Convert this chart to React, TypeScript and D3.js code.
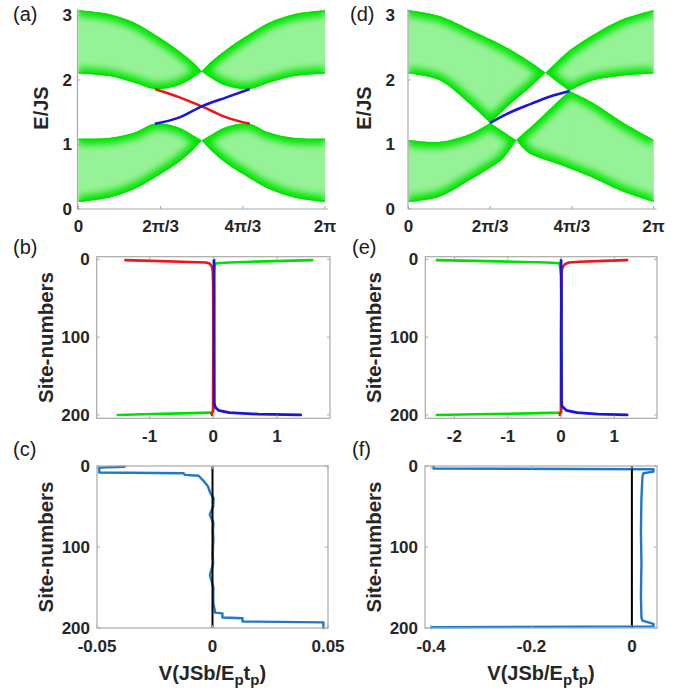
import React from 'react';
import * as d3 from 'd3';

const FONT = 'Arial, "Liberation Sans", Helvetica, sans-serif';
const GREEN = '#00e400';
const GREEN_LIGHT = '#96f296';
const AXIS = '#a9a9a9';
const TXT = '#262626';
const RED = '#f01414';
const BLUE = '#1616dc';
const MBLUE = '#1f78c8';

// ---- (a) bulk band edges, k in units of pi ----
const aK = [0, 0.25, 0.45, 0.62, 0.8, 0.93, 1, 1.07, 1.2, 1.38, 1.55, 1.75, 2];
const aTop1 = [3.08, 3.02, 2.89, 2.7, 2.47, 2.27, 2.13, 2.27, 2.47, 2.7, 2.89, 3.02, 3.08];
const aBot1 = [2.1, 2.06, 1.96, 1.86, 1.91, 2.04, 2.13, 2.04, 1.91, 1.86, 1.96, 2.06, 2.1];
const aTop2 = [1.09, 1.1, 1.18, 1.32, 1.27, 1.14, 1.06, 1.14, 1.27, 1.32, 1.18, 1.1, 1.09];
const aBot2 = [0.11, 0.18, 0.31, 0.49, 0.71, 0.92, 1.06, 0.92, 0.71, 0.49, 0.31, 0.18, 0.11];
const aBreaks = [1];
// (a) edge states
const aEdgeK = [0.62, 0.82, 1, 1.2, 1.39];
const aRed = [1.86, 1.73, 1.59, 1.42, 1.32];
const aBlue = [1.32, 1.42, 1.59, 1.73, 1.86];

// ---- (d) bulk band edges ----
const dK1 = [0, 0.25, 0.5, 0.667, 0.85, 1, 1.118, 1.2, 1.314, 1.5, 1.75, 2];
const dTop1 = [3.08, 2.99, 2.78, 2.63, 2.45, 2.27, 2.11, 2.26, 2.46, 2.69, 2.94, 3.08];
const dBot1 = [2.1, 2.0, 1.63, 1.334, 1.66, 1.9, 2.11, 1.99, 1.83, 1.99, 2.07, 2.1];
const dBreaks1 = [0.667, 1.118, 1.314];
const dK2 = [0, 0.25, 0.5, 0.667, 0.77, 0.879, 0.95, 1, 1.25, 1.314, 1.5, 1.75, 2];
const dTop2 = [1.07, 1.04, 1.16, 1.334, 1.2, 1.066, 1.19, 1.27, 1.72, 1.83, 1.65, 1.34, 1.07];
const dBot2 = [0.11, 0.19, 0.45, 0.64, 0.78, 1.066, 0.92, 0.85, 0.68, 0.63, 0.49, 0.27, 0.11];
const dBreaks2 = [0.667, 0.879, 1.314];
const dEdgeK = [0.667, 0.8, 1, 1.15, 1.314];
const dBlue = [1.334, 1.47, 1.63, 1.74, 1.83];

const kTicks = [0, 2 / 3, 4 / 3, 2];
const kLabels = ['0', '2π/3', '4π/3', '2π'];
const eTicks = [0, 1, 2, 3];

// ---- (b) profiles [site, value] ----
const bGreen = [[1, 1.55], [2, 1.1], [3, 0.6], [4, 0.25], [5, 0.05], [7, 0.02], [20, 0.01], [100, 0.008], [190, 0.005], [196, -0.01], [197, -0.04], [198, -0.5], [199, -1.1], [200, -1.5]];
const bRed = [[1, -1.38], [2, -0.95], [3, -0.5], [4, -0.12], [5, -0.07], [7, -0.04], [10, -0.02], [15, -0.01], [30, -0.004], [100, 0], [196, -0.005], [198, -0.03], [200, -0.02]];
const bBlue = [[1, 0.01], [50, 0.012], [100, 0.012], [185, 0.015], [190, 0.03], [194, 0.08], [197, 0.25], [199, 0.7], [200, 1.37]];

// ---- (e) profiles ----
const eGreen = [[1, -2.33], [2, -1.6], [3, -0.9], [4, -0.25], [5, -0.03], [20, 0.005], [100, 0.005], [196, 0.0], [197, -0.03], [198, -0.6], [199, -1.6], [200, -2.33]];
const eRed = [[1, 1.24], [2, 0.8], [3, 0.35], [4, 0.15], [6, 0.08], [8, 0.05], [12, 0.02], [20, 0.01], [100, 0], [197, 0], [198, -0.03], [200, -0.02]];
const eBlue = [[1, 0.0], [50, 0.005], [100, 0.005], [185, 0.01], [189, 0.02], [194, 0.1], [197, 0.3], [199, 0.7], [200, 1.24]];

// ---- (c), (f) potential profiles ----
const cProfile = [[1, -0.038], [2, -0.049], [8, -0.049], [9, -0.0125], [11, -0.012], [12, -0.006], [18, -0.004], [25, -0.002], [33, -0.001], [40, 0.0005], [50, 0.0003], [60, -0.0012], [70, 0.0004], [80, 0.0002], [90, 0.0004], [100, 0.0002], [110, 0.0001], [120, 0.0003], [135, -0.0011], [150, 0.0004], [160, 0.0003], [170, 0.0004], [178, 0.001], [181, 0.001], [182, 0.0043], [187, 0.0043], [188, 0.013], [192, 0.013], [193, 0.048], [200, 0.048]];
const fProfile = [[1, -0.395], [3, -0.395], [4, 0.043], [7, 0.043], [9, 0.023], [13, 0.021], [40, 0.019], [80, 0.018], [120, 0.019], [160, 0.018], [187, 0.019], [191, 0.021], [195, 0.043], [198, 0.043], [199, -0.4], [200, -0.4]];

function splitIdx(ks: number[], breaks: number[]) {
  const segs: number[][] = [];
  let start = 0;
  for (let i = 1; i < ks.length; i++) {
    if (breaks.includes(ks[i]) || i === ks.length - 1) {
      segs.push(d3.range(start, i + 1));
      start = i;
    }
  }
  return segs;
}

const smooth = d3.curveCatmullRom.alpha(0.5);

function Band({ id, ks, top, bot, breaks, x, y }: any) {
  const segs = splitIdx(ks, breaks);
  const area = d3.area<number>()
    .x(i => x(ks[i])).y0(i => y(bot[i])).y1(i => y(top[i]))
    .curve(smooth);
  const lineT = d3.line<number>().x(i => x(ks[i])).y(i => y(top[i])).curve(smooth);
  const lineB = d3.line<number>().x(i => x(ks[i])).y(i => y(bot[i])).curve(smooth);
  const areaD = segs.map(s => area(s)).join('');
  const edgeD = segs.map(s => lineT(s) + lineB(s)).join('');
  return (
    <g>
      <clipPath id={id}><path d={areaD} /></clipPath>
      <path d={areaD} fill={GREEN_LIGHT} stroke={GREEN_LIGHT} strokeWidth={0.6} />
      <g clipPath={`url(#${id})`}>
        <path d={edgeD} fill="none" stroke={GREEN} strokeWidth={12} filter="url(#soft)" />
        <path d={edgeD} fill="none" stroke={GREEN} strokeWidth={3} />
      </g>
    </g>
  );
}

function BandPanel({ label, x0, x1, axisX, yLabelEnd, bands, lines }: any) {
  const x = d3.scaleLinear().domain([0, 2]).range([x0, x1]);
  const y = d3.scaleLinear().domain([0, 3.1]).range([209, 9]);
  const edge = d3.line<number>().curve(d3.curveMonotoneX);
  return (
    <g fontFamily={FONT}>
      {bands.map((b: any) => <Band key={b.id} {...b} x={x} y={y} />)}
      {lines.map((l: any, i: number) => (
        <path key={i} d={edge(l.ks.map((k: number, j: number) => [x(k), y(l.es[j])]) as any) || ''}
          fill="none" stroke={l.color} strokeWidth={2.6} />
      ))}
      <line x1={axisX} x2={axisX} y1={9} y2={209} stroke={AXIS} strokeWidth={1.2} />
      <line x1={axisX} x2={x1 + 3} y1={209} y2={209} stroke={AXIS} strokeWidth={1.2} />
      {eTicks.map(t => (
        <g key={t}>
          <line x1={axisX} x2={axisX + 3} y1={y(t)} y2={y(t)} stroke={AXIS} />
          <text x={yLabelEnd} y={y(t) + 6} textAnchor="end" fontSize={17} fontWeight="bold" fill={TXT}>{t}</text>
        </g>
      ))}
      {kTicks.map((t, i) => (
        <g key={i}>
          <line x1={x(t)} x2={x(t)} y1={209} y2={206} stroke={AXIS} />
          <text x={x(t)} y={232} textAnchor="middle" fontSize={17} fontWeight="bold" fill={TXT}>{kLabels[i]}</text>
        </g>
      ))}
      <text transform={`translate(${yLabelEnd - 24},${108}) rotate(-90)`} textAnchor="middle"
        fontSize={20} fontWeight="bold" fill={TXT}>E/JS</text>
      <text x={label.x} y={21} fontSize={20} fill="#1a1a1a">{label.t}</text>
    </g>
  );
}

function ProfilePanel({ label, labelY, left, right, top, bottom, xDomain, yDomain, xTicks, xTickLabels, series, zeroLine, xTitle }: any) {
  const x = d3.scaleLinear().domain(xDomain).range([left, right]);
  const y = d3.scaleLinear().domain(yDomain).range([top, bottom]);
  const line = d3.line<number[]>().x(d => x(d[1])).y(d => y(d[0]));
  const yTicks = [0, 100, 200];
  return (
    <g fontFamily={FONT}>
      {series.map((s: any, i: number) => (
        <path key={i} d={line(s.data) || ''} fill="none" stroke={s.color} strokeWidth={s.w}
          strokeLinejoin="round" strokeLinecap="round" />
      ))}
      {zeroLine && <line x1={x(0)} x2={x(0)} y1={top} y2={bottom} stroke="#000" strokeWidth={2} />}
      <rect x={left} y={top} width={right - left} height={bottom - top} fill="none" stroke={AXIS} strokeWidth={1.2} />
      {xTicks.map((t: number, i: number) => (
        <g key={i}>
          <line x1={x(t)} x2={x(t)} y1={bottom} y2={bottom - 3} stroke={AXIS} />
          <line x1={x(t)} x2={x(t)} y1={top} y2={top + 3} stroke={AXIS} />
          <text x={x(t)} y={bottom + 24} textAnchor="middle" fontSize={17} fontWeight="bold" fill={TXT}>{xTickLabels[i]}</text>
        </g>
      ))}
      {yTicks.map(t => (
        <g key={t}>
          <line x1={left} x2={left + 3} y1={y(t)} y2={y(t)} stroke={AXIS} />
          <line x1={right} x2={right - 3} y1={y(t)} y2={y(t)} stroke={AXIS} />
          <text x={left - 7} y={y(t) + 6} textAnchor="end" fontSize={17} fontWeight="bold" fill={TXT}>{t}</text>
        </g>
      ))}
      <text transform={`translate(${left - 44},${(top + bottom) / 2}) rotate(-90)`} textAnchor="middle"
        fontSize={20.5} fontWeight="bold" fill={TXT}>Site-numbers</text>
      {xTitle && (
        <text x={(left + right) / 2} y={680} textAnchor="middle" fontSize={20} fontWeight="bold" fill={TXT}>
          V(JSb/E<tspan dy={5} fontSize={15}>p</tspan><tspan dy={-5}>t</tspan><tspan dy={5} fontSize={15}>p</tspan><tspan dy={-5}>)</tspan>
        </text>
      )}
      <text x={label.x} y={labelY} fontSize={20} fill="#1a1a1a">{label.t}</text>
    </g>
  );
}

export default function App() {
  return (
    <svg width={684} height={696} style={{ position: 'absolute', left: 0, top: 0, background: '#fff' }}>
      <defs>
        <filter id="soft" filterUnits="userSpaceOnUse" x={0} y={0} width={684} height={696}>
          <feGaussianBlur stdDeviation={3.5} />
        </filter>
      </defs>
      <rect width={684} height={696} fill="#fff" />
      <BandPanel label={{ t: '(a)', x: 13 }} x0={78.5} x1={325} axisX={77.5} yLabelEnd={72}
        bands={[
          { id: 'a1', ks: aK, top: aTop1, bot: aBot1, breaks: aBreaks },
          { id: 'a2', ks: aK, top: aTop2, bot: aBot2, breaks: aBreaks },
        ]}
        lines={[{ ks: aEdgeK, es: aRed, color: RED }, { ks: aEdgeK, es: aBlue, color: BLUE }]} />
      <BandPanel label={{ t: '(d)', x: 350 }} x0={408.5} x1={653.5} axisX={408} yLabelEnd={395}
        bands={[
          { id: 'd1', ks: dK1, top: dTop1, bot: dBot1, breaks: dBreaks1 },
          { id: 'd2', ks: dK2, top: dTop2, bot: dBot2, breaks: dBreaks2 },
        ]}
        lines={[{ ks: dEdgeK, es: dBlue, color: BLUE }]} />
      <ProfilePanel label={{ t: '(b)', x: 13 }} labelY={254} left={96.7} right={330} top={256.7} bottom={418.3}
        xDomain={[-1.83, 1.83]} yDomain={[-3.4, 204.3]} xTicks={[-1, 0, 1]} xTickLabels={['-1', '0', '1']}
        series={[{ data: bGreen, color: '#00e000', w: 2.6 }, { data: bRed, color: RED, w: 2.6 }, { data: bBlue, color: BLUE, w: 2.8 }]} />
      <ProfilePanel label={{ t: '(e)', x: 352 }} labelY={254} left={425.3} right={657} top={256.7} bottom={418.3}
        xDomain={[-2.546, 1.8]} yDomain={[-3.4, 204.3]} xTicks={[-2, -1, 0, 1]} xTickLabels={['-2', '-1', '0', '1']}
        series={[{ data: eGreen, color: '#00e000', w: 2.6 }, { data: eRed, color: RED, w: 2.6 }, { data: eBlue, color: BLUE, w: 2.8 }]} />
      <ProfilePanel label={{ t: '(c)', x: 13 }} labelY={456} left={97} right={328} top={466} bottom={628}
        xDomain={[-0.05, 0.05]} yDomain={[0, 200]} xTicks={[-0.05, 0, 0.05]} xTickLabels={['-0.05', '0', '0.05']}
        series={[{ data: cProfile, color: MBLUE, w: 2.4 }]} zeroLine xTitle />
      <ProfilePanel label={{ t: '(f)', x: 352 }} labelY={456} left={425} right={657} top={466} bottom={628}
        xDomain={[-0.412, 0.05]} yDomain={[0, 200]} xTicks={[-0.4, -0.2, 0]} xTickLabels={['-0.4', '-0.2', '0']}
        series={[{ data: fProfile, color: MBLUE, w: 2.4 }]} zeroLine xTitle />
    </svg>
  );
}
